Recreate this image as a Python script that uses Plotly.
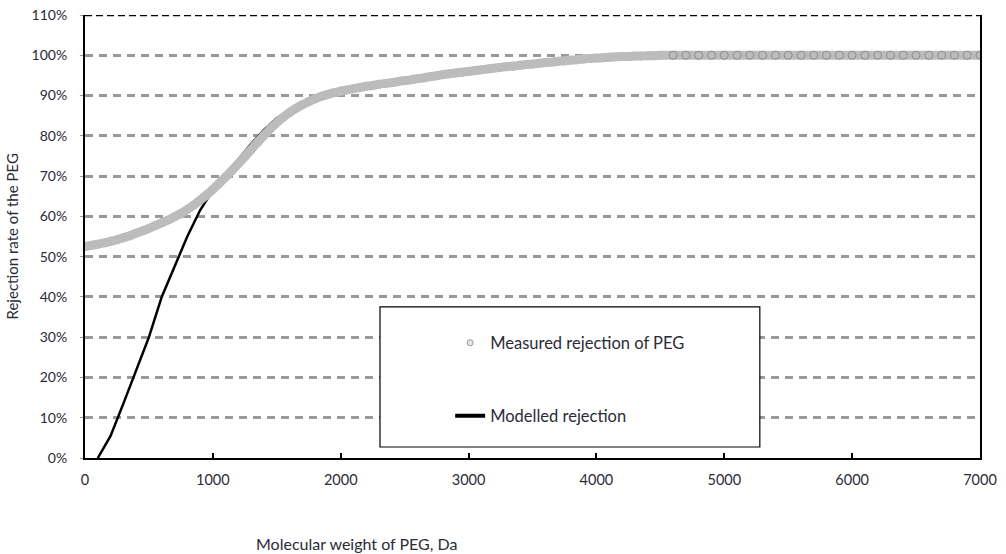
import plotly.graph_objects as go

# ---- data ----
measured_mw = list(range(0, 4501, 50)) + list(range(4600, 7001, 100))
measured_rej = [
    52.5, 52.8, 53.1, 53.4, 53.8, 54.2, 54.7, 55.2, 55.8, 56.4,
    57.0, 57.7, 58.4, 59.1, 59.9, 60.7, 61.7, 62.8, 64.0, 65.3,
    66.7, 68.2, 69.8, 71.4, 73.1, 74.8, 76.6, 78.4, 80.1, 81.8,
    83.3, 84.6, 85.8, 86.8, 87.7, 88.5, 89.2, 89.8, 90.3, 90.7,
    91.1, 91.4, 91.7, 92.0, 92.3, 92.5, 92.8, 93.0, 93.2, 93.5,
    93.7, 93.9, 94.2, 94.4, 94.7, 94.9, 95.2, 95.4, 95.6, 95.8,
    96.0, 96.2, 96.4, 96.6, 96.8, 97.0, 97.2, 97.3, 97.5, 97.7,
    97.8, 98.0, 98.2, 98.3, 98.5, 98.6, 98.8, 98.9, 99.1, 99.2,
    99.3, 99.4, 99.5, 99.6, 99.7, 99.7, 99.8, 99.8, 99.9, 99.9,
    100.0,
    100, 100, 100, 100, 100, 100, 100, 100, 100, 100,
    100, 100, 100, 100, 100, 100, 100, 100, 100, 100,
    100, 100, 100, 100, 100,
]

model_mw = [100, 200, 300, 400, 500, 600, 700, 800, 900, 1000, 1100, 1200,
            1300, 1400, 1500, 1750, 2000, 2500, 3000, 3500, 4000, 4500]
model_rej = [0, 5.5, 13.5, 21.5, 30.0, 40.0, 47.5, 55.0, 61.5, 66.5, 70.3, 74.2,
             78.0, 81.5, 84.4, 88.6, 91.2, 94.0, 96.4, 98.0, 99.1, 99.6]

x_ticks = [0, 1000, 2000, 3000, 4000, 5000, 6000, 7000]
y_ticks = [0, 10, 20, 30, 40, 50, 60, 70, 80, 90, 100, 110]
y_tick_labels = [f"{v}%" for v in y_ticks]

FONT = "Lato"
TXT = "#2b2b38"
GREY = "#bcbcbc"

fig = go.Figure()

# modelled line (drawn below measured)
fig.add_trace(go.Scatter(
    x=model_mw, y=model_rej, mode="lines",
    line=dict(color="black", width=2.5),
    showlegend=False, hoverinfo="skip",
))
# measured points (dense markers forming a thick band)
outline = ["#8c8c8c" if m > 4500 else GREY for m in measured_mw]
fig.add_trace(go.Scatter(
    x=measured_mw, y=measured_rej, mode="lines+markers",
    line=dict(color=GREY, width=9, shape="spline", smoothing=0.8),
    marker=dict(color=GREY, size=8, line=dict(color=outline, width=1)),
    showlegend=False, hoverinfo="skip",
))

# legend-only entries
fig.add_trace(go.Scatter(
    x=[None], y=[None], mode="markers", name="Measured rejection of PEG",
    marker=dict(color="#e6e6e6", size=6, line=dict(color="#9a9a9a", width=1)),
    legend="legend",
))
fig.add_trace(go.Scatter(
    x=[None], y=[None], mode="lines", name="Modelled rejection",
    line=dict(color="black", width=4),
    legend="legend2",
))

# legend frame box
fig.add_shape(type="rect", xref="paper", yref="paper",
              x0=0.3296, x1=0.754, y0=0.0248, y1=0.341,
              line=dict(color="black", width=1.2), fillcolor="white", layer="above")
# top dashed border at 110%
fig.add_shape(type="line", xref="paper", yref="y", x0=0, x1=1, y0=110, y1=110,
              line=dict(color="black", width=2.5, dash="7px,4px"), layer="above")

leg_common = dict(bgcolor="rgba(0,0,0,0)", borderwidth=0,
                  font=dict(family=FONT, size=16.5, color=TXT),
                  xanchor="left", yanchor="middle")
fig.update_layout(
    width=1006, height=554,
    margin=dict(l=85, r=26, t=15, b=96),
    paper_bgcolor="white", plot_bgcolor="white",
    font=dict(family=FONT, size=14.5, color=TXT),
    legend=dict(x=0.408, y=0.2596, **leg_common),
    legend2=dict(x=0.408, y=0.0948, **leg_common),
    xaxis=dict(
        range=[0, 7000], tickvals=x_ticks, ticktext=[str(v) for v in x_ticks],
        showgrid=False, zeroline=False, automargin=False,
        showline=True, linecolor="black", linewidth=2,
        ticks="inside", ticklen=5, tickwidth=1.5, tickcolor="black",
        ticklabelstandoff=8,
        tickfont=dict(family=FONT, size=14.5, color=TXT),
    ),
    yaxis=dict(
        range=[0, 110], tickvals=y_ticks, ticktext=y_tick_labels,
        showgrid=True, gridcolor="#9a9a9a", gridwidth=3, griddash="8px,6px",
        zeroline=False, automargin=False,
        showline=True, linecolor="black", linewidth=2, mirror=True,
        ticks="outside", ticklen=3, tickwidth=1, tickcolor="#9a9a9a",
        ticklabelstandoff=10,
        tickfont=dict(family=FONT, size=14, color=TXT),
    ),
    annotations=[
        dict(text="Molecular weight of PEG, Da", xref="paper", yref="paper",
             x=0.303, y=-0.192, showarrow=False, xanchor="center", yanchor="middle",
             font=dict(family=FONT, size=16, color=TXT)),
        dict(text="Rejection rate of the PEG", xref="paper", yref="paper",
             x=-0.0816, y=0.5, showarrow=False, textangle=-90,
             xanchor="center", yanchor="middle",
             font=dict(family=FONT, size=15, color=TXT)),
    ],
)

fig.write_html("out.html", config={"displayModeBar": False},
               post_script="document.body.style.margin='0';document.body.style.padding='0';")
